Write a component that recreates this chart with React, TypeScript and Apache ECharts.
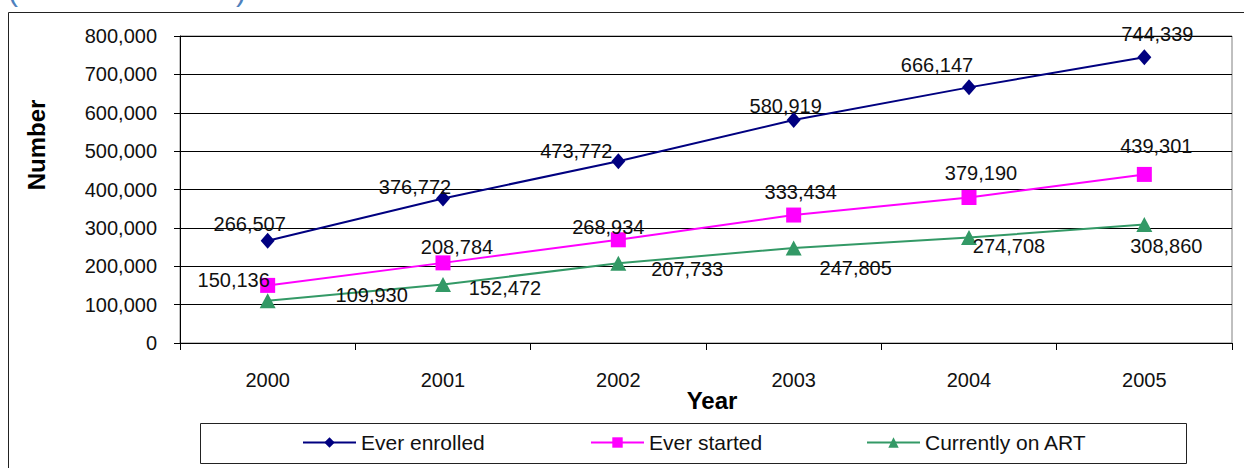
import React, { useEffect, useRef } from "react";
import * as echarts from "echarts";

const years = ["2000", "2001", "2002", "2003", "2004", "2005"];
const everEnrolled = [266507, 376772, 473772, 580919, 666147, 744339];
const everStarted = [150136, 208784, 268934, 333434, 379190, 439301];
const currentlyOnART = [109930, 152472, 207733, 247805, 274708, 308860];
const seriesNames = ["Ever enrolled", "Ever started", "Currently on ART"];
const yAxisTitle = "Number";
const xAxisTitle = "Year";

// label placement (pixel offsets from each marker), kept apart from data
const enrolledLabelOffsets = [[-18, -17], [-28, -11], [-42, -10], [-8, -14], [-32, -22], [13, -23]];
const startedLabelOffsets = [[-34, -5], [14, -16], [-10, -13], [7, -23], [12, -24], [12, -28]];
const artLabelOffsets = [[104, -6], [62, 4], [69, 6], [62, 20], [40, 8], [22, 22]];

const FONT = "'Liberation Sans', Arial, sans-serif";
const fmt = (v: number) => v.toLocaleString("en-US");

export default function App() {
  const ref = useRef<HTMLDivElement>(null);
  useEffect(() => {
    if (!ref.current) return;
    const chart = echarts.init(ref.current, undefined, { renderer: "svg" });
    const labelBase = {
      show: true,
      position: "inside",
      fontSize: 20,
      fontFamily: FONT,
      color: "#111",
      textBorderWidth: 0,
      formatter: (p: any) => fmt(p.value),
    };
    const mk = (vals: number[], offs: number[][]) =>
      vals.map((v, i) => ({ value: v, label: { offset: offs[i] } }));
    const legendCommon = {
      itemWidth: 53,
      itemHeight: 13,
      padding: 0,
      itemGap: 0,
      selectedMode: false,
      textStyle: { fontSize: 21, color: "#111", fontFamily: FONT },
    };
    chart.setOption({
      animation: false,
      backgroundColor: "#fff",
      textStyle: { fontFamily: FONT },
      grid: { left: 180, right: 12, top: 36, bottom: 125, show: true, borderColor: "#808080", borderWidth: 1 },
      xAxis: {
        type: "category",
        data: years,
        boundaryGap: true,
        axisLine: { lineStyle: { color: "#000", width: 1 } },
        axisTick: { show: true, length: 7, lineStyle: { color: "#000" } },
        axisLabel: { fontSize: 20, color: "#111", margin: 27, fontFamily: FONT },
        splitLine: { show: false },
      },
      yAxis: {
        type: "value",
        min: 0,
        max: 800000,
        interval: 100000,
        axisLine: { show: true, lineStyle: { color: "#000", width: 1 } },
        axisTick: { show: true, length: 6, lineStyle: { color: "#000" } },
        axisLabel: { fontSize: 20, color: "#111", margin: 23, fontFamily: FONT, formatter: (v: number) => fmt(v) },
        splitLine: { show: true, lineStyle: { color: "#000", width: 1 } },
      },
      legend: [
        { ...legendCommon, data: [seriesNames[0]], left: 302, top: 432 },
        { ...legendCommon, data: [seriesNames[1]], left: 590, top: 432 },
        { ...legendCommon, data: [seriesNames[2]], left: 866, top: 432 },
      ],
      series: [
        {
          type: "line",
          name: seriesNames[0],
          data: mk(everEnrolled, enrolledLabelOffsets),
          symbol: "diamond",
          symbolSize: [14, 16],
          lineStyle: { color: "#000080", width: 2 },
          itemStyle: { color: "#000080" },
          label: labelBase,
          z: 3,
        },
        {
          type: "line",
          name: seriesNames[1],
          data: mk(everStarted, startedLabelOffsets),
          symbol: "rect",
          symbolSize: 15,
          lineStyle: { color: "#FF00FF", width: 2 },
          itemStyle: { color: "#FF00FF" },
          label: labelBase,
          z: 3,
        },
        {
          type: "line",
          name: seriesNames[2],
          data: mk(currentlyOnART, artLabelOffsets),
          symbol: "triangle",
          symbolSize: [16, 15],
          lineStyle: { color: "#339966", width: 2 },
          itemStyle: { color: "#339966" },
          label: labelBase,
          z: 3,
        },
      ],
      graphic: [
        { type: "rect", shape: { x: 8.5, y: 12.5, width: 1400, height: 600 }, style: { fill: "none", stroke: "#222", lineWidth: 1 }, silent: true, z: -1 },
        { type: "rect", shape: { x: 200.5, y: 423.5, width: 986, height: 40 }, style: { fill: "none", stroke: "#222", lineWidth: 1 }, silent: true },
        { type: "text", x: 8, y: 5, style: { text: "(", fontSize: 30, fill: "#4F81BD", verticalAlign: "bottom", fontFamily: FONT } },
        { type: "text", x: 236, y: 5, style: { text: ")", fontSize: 30, fill: "#4F81BD", verticalAlign: "bottom", fontFamily: FONT } },
        { type: "text", x: 36, y: 145, rotation: Math.PI / 2, style: { text: yAxisTitle, fontSize: 24, fontWeight: "bold", fill: "#000", align: "center", verticalAlign: "middle", fontFamily: FONT } },
        { type: "text", x: 712, y: 400, style: { text: xAxisTitle, fontSize: 24, fontWeight: "bold", fill: "#000", align: "center", verticalAlign: "middle", fontFamily: FONT } },
      ],
    });
    return () => chart.dispose();
  }, []);
  return <div ref={ref} style={{ position: "fixed", left: 0, top: 0, width: 1244, height: 468 }} />;
}
